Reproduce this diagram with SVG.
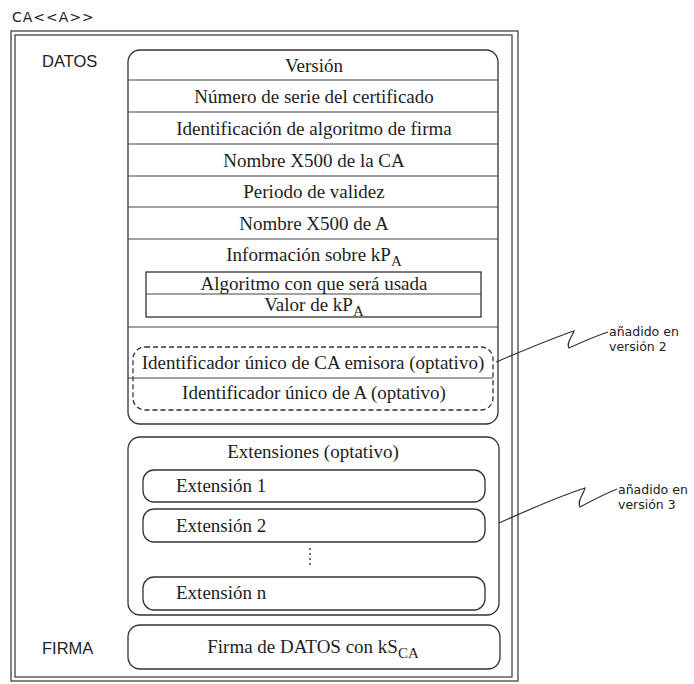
<svg xmlns="http://www.w3.org/2000/svg" width="694" height="684" viewBox="0 0 694 684">
  <defs>
    <style>
      .frame { fill: none; stroke: #444; stroke-width: 1.3; }
      .box { fill: none; stroke: #333; stroke-width: 1.3; }
      .sep { fill: none; stroke: #444; stroke-width: 1.1; }
      .dash { fill: none; stroke: #333; stroke-width: 1.3; stroke-dasharray: 5 3; }
      .dots { fill: none; stroke: #444; stroke-width: 1.5; stroke-dasharray: 2 3; }
      .serif { font-family: "Liberation Serif", "Times New Roman", serif; font-size: 19px; fill: #1e1e1e; }
      .mid { text-anchor: middle; }
      .sub { font-size: 15px; }
      .label { font-family: "Liberation Sans", Arial, sans-serif; font-size: 16.5px; fill: #222; }
      .title { font-family: "DejaVu Sans", "Liberation Sans", sans-serif; font-size: 14px; fill: #222; letter-spacing: 1px; }
      .note { font-family: "DejaVu Sans", "Liberation Sans", sans-serif; font-size: 12.5px; fill: #222; }
      .link { fill: none; stroke: #333; stroke-width: 1.2; }
    </style>
  </defs>
  <rect width="694" height="684" fill="#fff"/>

  <!-- certificate title -->
  <text class="title" x="12" y="22">CA&lt;&lt;A&gt;&gt;</text>

  <!-- double outer frame -->
  <g id="frame">
    <rect class="frame" x="11" y="31" width="507" height="650"/>
    <rect class="frame" x="15" y="35" width="497" height="642"/>
  </g>

  <!-- section labels -->
  <g id="label-datos">
    <text class="label" x="42" y="67">DATOS</text>
  </g>
  <g id="label-firma">
    <text class="label" x="42" y="654">FIRMA</text>
  </g>

  <!-- DATOS block: fields of the certificate -->
  <g id="datos">
    <rect class="box" x="128" y="50" width="370" height="374" rx="12"/>
    <line class="sep" x1="128" y1="80" x2="498" y2="80"/>
    <line class="sep" x1="128" y1="112" x2="498" y2="112"/>
    <line class="sep" x1="128" y1="144" x2="498" y2="144"/>
    <line class="sep" x1="128" y1="176" x2="498" y2="176"/>
    <line class="sep" x1="128" y1="207" x2="498" y2="207"/>
    <line class="sep" x1="128" y1="239" x2="498" y2="239"/>
    <line class="sep" x1="128" y1="327" x2="498" y2="327"/>
  </g>

  <g id="version">
    <text class="serif mid" x="314" y="72">Versión</text>
  </g>
  <g id="serial">
    <text class="serif mid" x="314" y="103">Número de serie del certificado</text>
  </g>
  <g id="sig-alg">
    <text class="serif mid" x="314" y="135">Identificación de algoritmo de firma</text>
  </g>
  <g id="issuer">
    <text class="serif mid" x="314" y="167">Nombre X500 de la CA</text>
  </g>
  <g id="validity">
    <text class="serif mid" x="314" y="198">Periodo de validez</text>
  </g>
  <g id="subject">
    <text class="serif mid" x="314" y="230">Nombre X500 de A</text>
  </g>

  <g id="public-key">
    <text class="serif mid" x="314" y="261">Información sobre kP<tspan class="sub" dy="5">A</tspan></text>
    <rect class="box" x="146" y="272" width="335" height="45"/>
    <line class="sep" x1="146" y1="294" x2="481" y2="294"/>
    <text class="serif mid" x="314" y="290">Algoritmo con que será usada</text>
    <text class="serif mid" x="314" y="311">Valor de kP<tspan class="sub" dy="5">A</tspan></text>
  </g>

  <!-- optional unique identifiers (version 2) -->
  <g id="unique-ids">
    <rect class="dash" x="133" y="347" width="360" height="63" rx="12"/>
    <line class="sep" x1="128" y1="378" x2="493" y2="378"/>
    <text class="serif mid" x="313" y="369">Identificador único de CA emisora (optativo)</text>
    <text class="serif mid" x="314" y="399">Identificador único de A (optativo)</text>
  </g>

  <!-- optional extensions (version 3) -->
  <g id="extensions">
    <rect class="box" x="128" y="437" width="371" height="178" rx="12"/>
    <text class="serif mid" x="313" y="458">Extensiones (optativo)</text>
  </g>
  <g id="ext-1">
    <rect class="box" x="143" y="470" width="342" height="32" rx="11"/>
    <text class="serif" x="176" y="492">Extensión 1</text>
  </g>
  <g id="ext-2">
    <rect class="box" x="143" y="509" width="342" height="33" rx="11"/>
    <text class="serif" x="176" y="532">Extensión 2</text>
  </g>
  <g id="ext-dots">
    <line class="dots" x1="310" y1="548" x2="310" y2="568"/>
  </g>
  <g id="ext-n">
    <rect class="box" x="143" y="577" width="342" height="33" rx="11"/>
    <text class="serif" x="176" y="599">Extensión n</text>
  </g>

  <!-- signature block -->
  <g id="firma">
    <rect class="box" x="128" y="625" width="372" height="44" rx="12"/>
    <text class="serif mid" x="313" y="653">Firma de DATOS con kS<tspan class="sub" dy="5">CA</tspan></text>
  </g>

  <!-- side notes -->
  <g id="note-v2">
    <text class="note" x="609" y="336">añadido en</text>
    <text class="note" x="609" y="351">versión 2</text>
  </g>
  <g id="note-v3">
    <text class="note" x="618" y="494">añadido en</text>
    <text class="note" x="618" y="509">versión 3</text>
  </g>

  <!-- squiggle leaders from the notes -->
  <g id="connectors">
    <path class="link" d="M496,362 C520,352 550,339 574,331 C572,337 566,343 569,348 C582,342 596,336 608,332"/>
    <path class="link" d="M499,523 C528,510 560,496 585,488 C583,495 577,501 580,507 C593,500 605,494 617,489"/>
  </g>
</svg>
